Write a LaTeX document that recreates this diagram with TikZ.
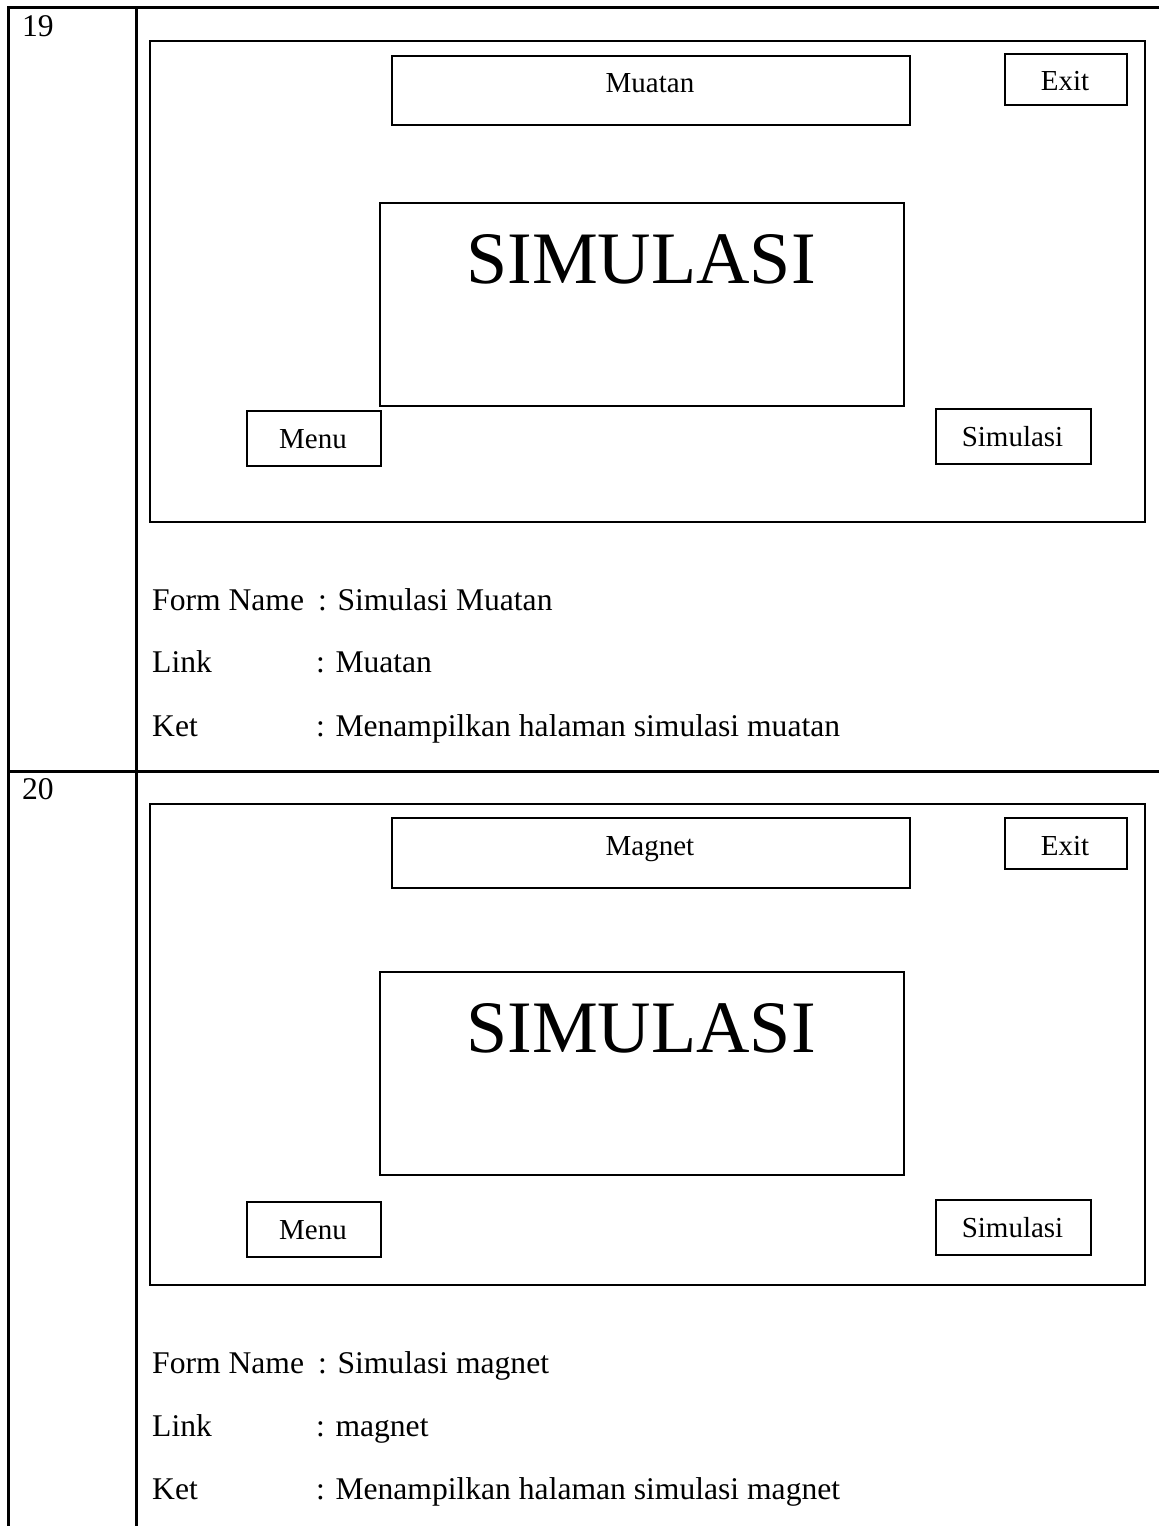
\documentclass[tikz,border=0pt]{standalone}
\usepackage{fontspec}
\setmainfont{Liberation Serif}
\begin{document}
\begin{tikzpicture}[x=1pt,y=-1pt,
  grid/.style={line width=3pt,line cap=rect},
  frm/.style={draw,line width=2pt,rectangle,inner sep=0pt,anchor=north west},
  btn/.style={draw,line width=2pt,rectangle,inner sep=0pt,anchor=north west},
  btxt/.style={font=\fontsize{29}{34}\selectfont,anchor=base,inner sep=0pt},
  body/.style={font=\fontsize{31.6}{38}\selectfont,anchor=base west,inner sep=0pt},
  big/.style={font=\fontsize{74}{86}\selectfont,anchor=base,inner sep=0pt}]
\useasboundingbox (0,0) rectangle (1159,1526);
% table grid
\coordinate (tl) at (8,7);
\coordinate (tr) at (1159,7);
\coordinate (bl) at (8,1526);
\coordinate (ml) at (8,771);
\coordinate (mr) at (1159,771);
\coordinate (ct) at (136,7);
\coordinate (cb) at (136,1526);
\draw[grid] (tr) -- (tl) -- (bl);
\draw[grid] (ml) -- (mr);
\draw[grid] (ct) -- (cb);
\node[body] (n19) at (22,36) {19};
\node[body] (n20) at (22,799) {20};

% ---------- row 19 ----------
\node[frm,minimum width=995pt,minimum height=481pt] (f1) at (149,40) {};
\node[btn,minimum width=518pt,minimum height=69pt] (t1) at (391,55) {};
\node[btxt] (t1l) at (650,92) {Muatan};
\node[btn,minimum width=122pt,minimum height=51pt] (e1) at (1004,53) {};
\node[btxt] (e1l) at (1065,90) {Exit};
\node[btn,minimum width=524pt,minimum height=203pt] (s1) at (379,202) {};
\node[big] (s1l) at (641,283) {SIMULASI};
\node[btn,minimum width=134pt,minimum height=55pt] (m1) at (246,410) {};
\node[btxt] (m1l) at (313,448) {Menu};
\node[btn,minimum width=155pt,minimum height=55pt] (b1) at (935,408) {};
\node[btxt] (b1l) at (1012.5,446) {Simulasi};
\node[body] (fn1) at (152,610) {Form Name};
\node[body] (fv1) at (318,610) {: Simulasi Muatan};
\node[body] (ln1) at (152,672) {Link};
\node[body] (lv1) at (316,672) {: Muatan};
\node[body] (kn1) at (152,736) {Ket};
\node[body] (kv1) at (316,736) {: Menampilkan halaman simulasi muatan};

% ---------- row 20 ----------
\node[frm,minimum width=995pt,minimum height=481pt] (f2) at (149,803) {};
\node[btn,minimum width=518pt,minimum height=70pt] (t2) at (391,817) {};
\node[btxt] (t2l) at (650,855) {Magnet};
\node[btn,minimum width=122pt,minimum height=51pt] (e2) at (1004,817) {};
\node[btxt] (e2l) at (1065,855) {Exit};
\node[btn,minimum width=524pt,minimum height=203pt] (s2) at (379,971) {};
\node[big] (s2l) at (641,1052) {SIMULASI};
\node[btn,minimum width=134pt,minimum height=55pt] (m2) at (246,1201) {};
\node[btxt] (m2l) at (313,1239) {Menu};
\node[btn,minimum width=155pt,minimum height=55pt] (b2) at (935,1199) {};
\node[btxt] (b2l) at (1012.5,1237) {Simulasi};
\node[body] (fn2) at (152,1373) {Form Name};
\node[body] (fv2) at (318,1373) {: Simulasi magnet};
\node[body] (ln2) at (152,1436) {Link};
\node[body] (lv2) at (316,1436) {: magnet};
\node[body] (kn2) at (152,1499) {Ket};
\node[body] (kv2) at (316,1499) {: Menampilkan halaman simulasi magnet};
\end{tikzpicture}
\end{document}
